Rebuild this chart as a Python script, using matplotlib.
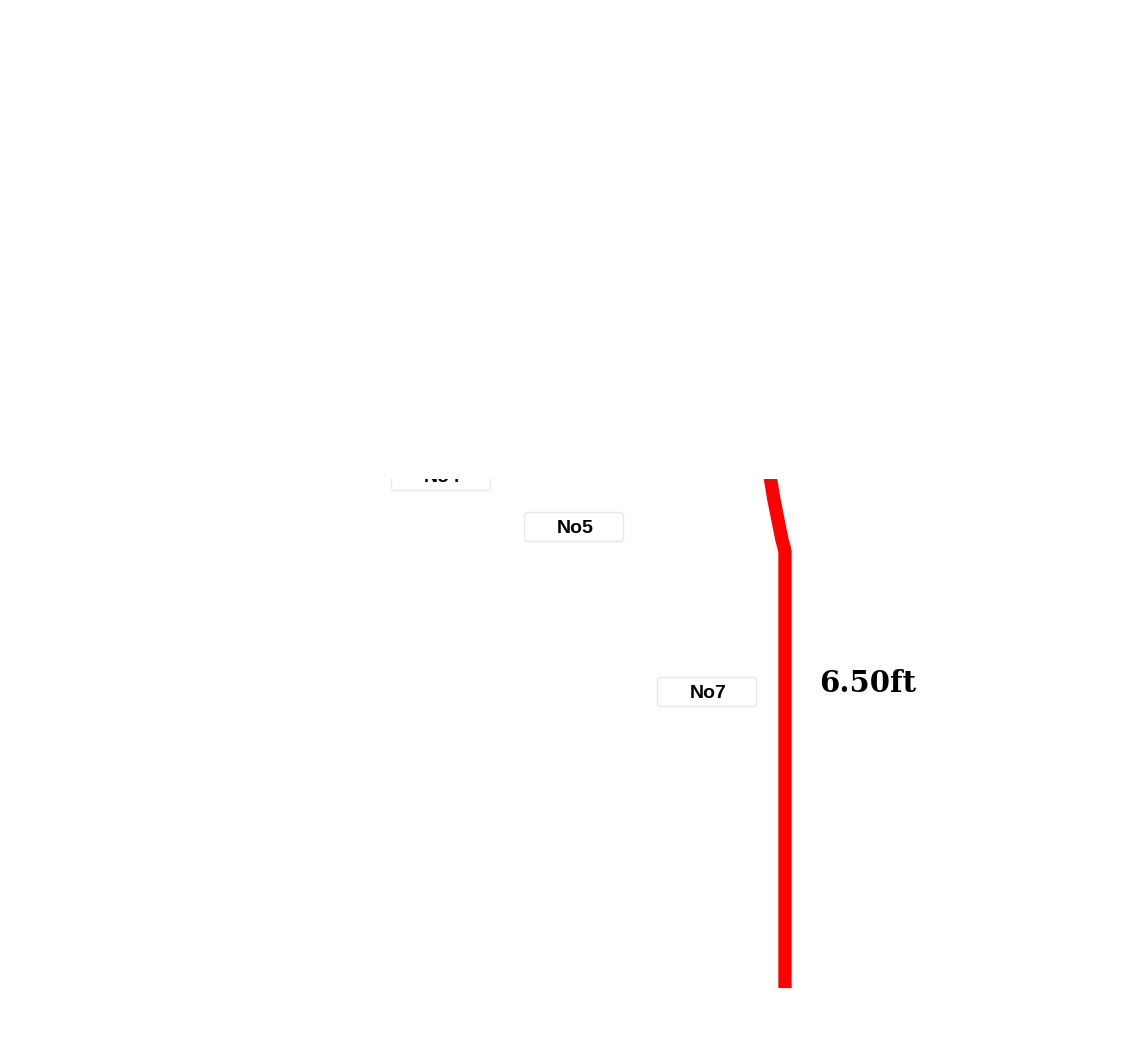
import matplotlib
matplotlib.use("Agg")
import matplotlib.pyplot as plt
from matplotlib.patches import FancyBboxPatch

# profile of the red line (horizontal offset, depth) in canvas units
profile_x = [770, 772, 774, 776, 778, 780, 782, 784, 785, 785]
profile_depth = [476, 488, 500, 510, 520, 530, 540, 547, 552, 988]

# station labels
stations = ["No4", "No5", "No7"]
station_x = [441, 574, 707]
station_y = [476, 527, 692]

# depth annotation
depth_label = "6.50ft"
depth_label_x = 819
depth_label_y = 684

W, H = 1138, 1064
CLIP_TOP = 479

fig = plt.figure(figsize=(W / 100, H / 100), dpi=100)
fig.patch.set_facecolor("white")
ax = fig.add_axes([0, 0, 1, (H - CLIP_TOP) / H])
ax.set_xlim(0, W)
ax.set_ylim(H, CLIP_TOP)
ax.axis("off")

ax.plot(profile_x, profile_depth, color="#ff0000", linewidth=9.6,
        solid_capstyle="butt", solid_joinstyle="miter", zorder=3)

box_w, box_h = 99, 29
for name, sx, sy in zip(stations, station_x, station_y):
    box = FancyBboxPatch((sx - box_w / 2, sy - box_h / 2), box_w, box_h,
                         boxstyle="round,pad=0,rounding_size=3",
                         facecolor="white", edgecolor="#e8e8e8", linewidth=1,
                         clip_on=True, zorder=4)
    ax.add_patch(box)
    ax.text(sx + 1, sy + 1.5, name, ha="center", va="center", fontsize=14,
            fontweight="bold", family="Liberation Sans", color="black",
            clip_on=True, zorder=5)

ax.text(depth_label_x, depth_label_y, depth_label, ha="left", va="center",
        fontsize=21, fontweight="bold", family="DejaVu Serif", color="black",
        zorder=5)

fig.savefig("out.png", dpi=100, facecolor="white")
